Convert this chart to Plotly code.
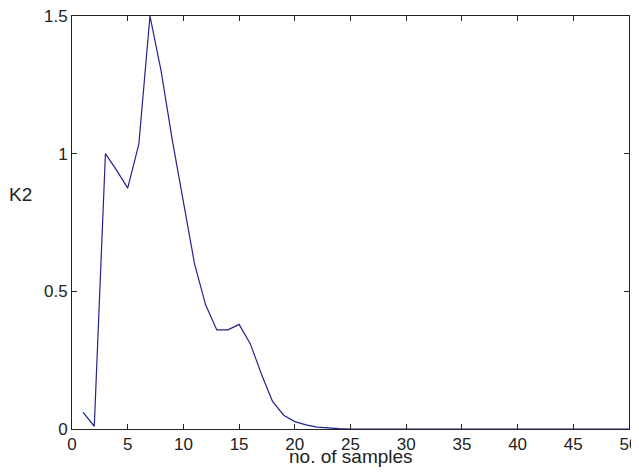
import plotly.graph_objects as go

samples = list(range(1, 51))
k2 = [0.06, 0.01, 1.0, 0.94, 0.875, 1.035, 1.5, 1.3, 1.05, 0.82,
      0.6, 0.45, 0.36, 0.36, 0.38, 0.31, 0.2, 0.1, 0.05, 0.027,
      0.015, 0.007, 0.003, 0.001] + [0.0] * 26
x_ticks = [0, 5, 10, 15, 20, 25, 30, 35, 40, 45, 50]
y_ticks = [0, 0.5, 1, 1.5]
y_tick_text = ["0", "0.5", "1", "1.5"]

font = "Liberation Sans, Arial, sans-serif"

fig = go.Figure()
fig.add_trace(go.Scatter(x=samples, y=k2, mode="lines",
                         line=dict(color="#23238e", width=1.2),
                         showlegend=False, hoverinfo="skip"))

axis_common = dict(showgrid=False, zeroline=False, showline=True,
                   linecolor="#222222", linewidth=1, mirror="ticks",
                   ticks="inside", ticklen=5, tickcolor="#222222",
                   automargin=False, ticklabeloverflow="allow",
                   tickfont=dict(family=font, size=17, color="#222222"))

fig.update_xaxes(range=[0, 50], tickvals=x_ticks, **axis_common)
fig.update_yaxes(range=[0, 1.5], tickvals=y_ticks, ticktext=y_tick_text,
                 **axis_common)

# page body has an 8px margin: figure is 631x465 placed at (8, 8)
fig.add_annotation(text="K2", xref="paper", yref="paper", x=-0.0916, y=0.5666,
                   xanchor="center", yanchor="middle", showarrow=False,
                   font=dict(family=font, size=19, color="#222222"))
fig.add_annotation(text="no. of samples", xref="paper", yref="paper", x=0.5,
                   y=-0.0654, xanchor="center", yanchor="middle", showarrow=False,
                   font=dict(family=font, size=19, color="#222222"))

fig.update_layout(width=631, height=465,
                  margin=dict(l=64, r=10, t=8, b=44),
                  paper_bgcolor="white", plot_bgcolor="white")

fig.write_html("out.html")
